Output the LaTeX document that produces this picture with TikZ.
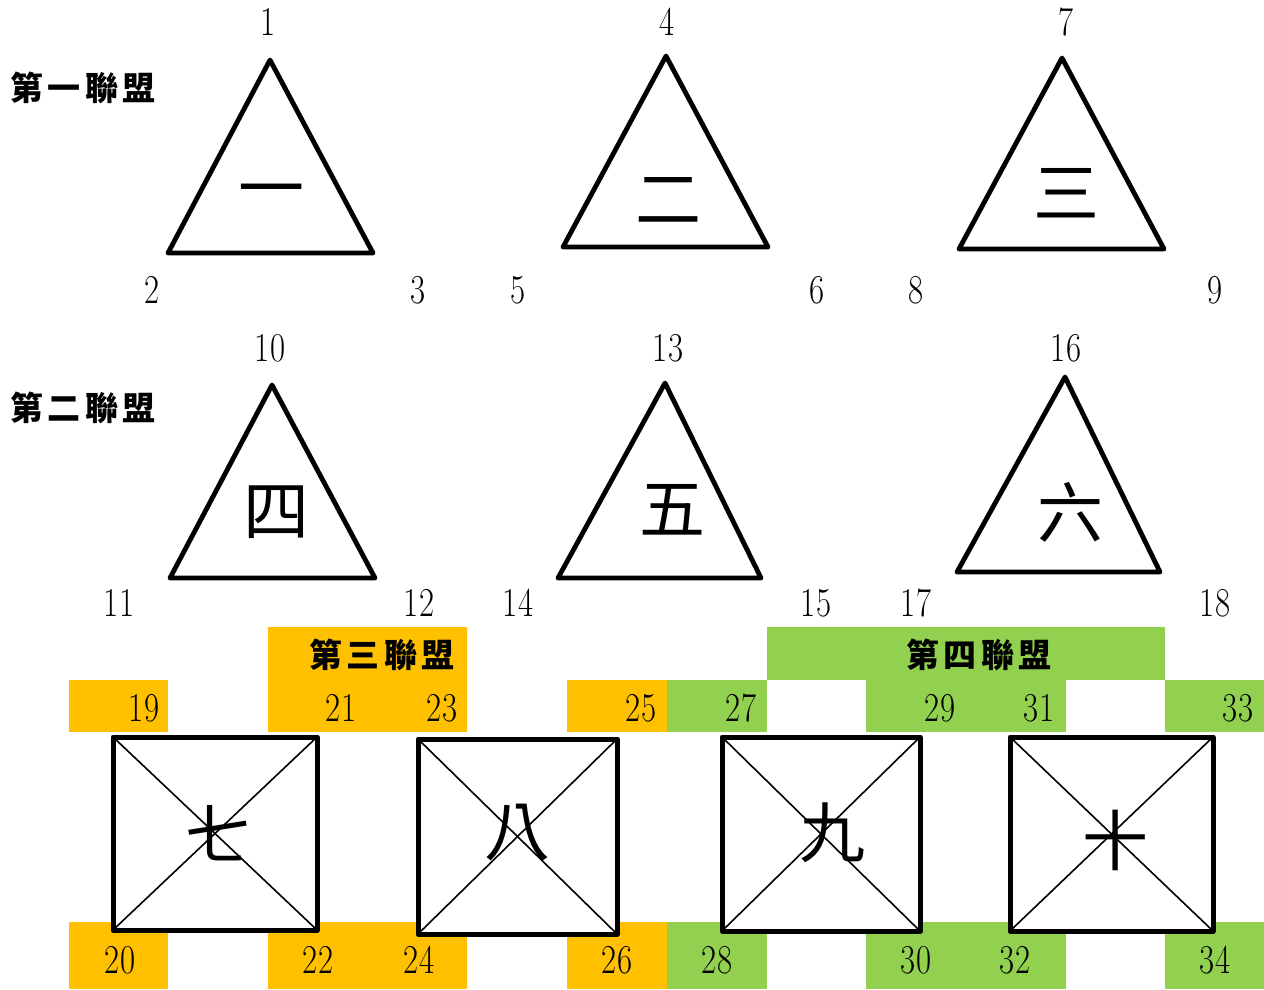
\documentclass[tikz,border=0pt]{standalone}
\usepackage{fontspec}
\usepackage{graphicx}
\newfontfamily\cjk{Noto Sans CJK TC}
\newfontfamily\cjkwide[LetterSpace=14]{Noto Sans CJK TC}
\definecolor{allyorange}{HTML}{FFC000}
\definecolor{allygreen}{HTML}{92D050}
\newcommand{\nn}[1]{\scalebox{0.8}[1]{#1}}

\tikzset{
	num/.style={font=\fontsize{41}{41}\selectfont, inner sep=0pt},
	tag/.style={font=\cjkwide\bfseries\fontsize{33}{33}\selectfont, inner sep=0pt},
	big/.style={font=\cjk\fontsize{66}{66}\selectfont, inner sep=0pt},
	tri/.style={line width=4.8pt, line join=round},
	sqbox/.style={draw, line width=5pt, fill=white, line join=round, outer sep=0pt, inner sep=0pt},
	diag/.style={line width=1.6pt}
}

\begin{document}
\begin{tikzpicture}[x=1pt, y=-1pt]
	\useasboundingbox (0,0) rectangle (1264,989);

	% alliance tags, left
	\node[tag] (tagone) at (83,88) {第一聯盟};
	\node[tag] (tagtwo) at (83,408) {第二聯盟};

	% first row of triangles
	\draw[tri] (270,60) -- (373,253) -- (168,253) -- cycle;
	\draw[tri] (666,56) -- (768,247) -- (563,247) -- cycle;
	\draw[tri] (1062,58) -- (1164,249) -- (959,249) -- cycle;
	\node[big] (tri1) at (271,198) {一};
	\node[big] (tri2) at (668,200) {二};
	\node[big] (tri3) at (1066,193) {三};

	\node[num] (n1) at (268,22) {\nn{1}};
	\node[num] (n2) at (152,290) {\nn{2}};
	\node[num] (n3) at (418,290) {\nn{3}};
	\node[num] (n4) at (667,22) {\nn{4}};
	\node[num] (n5) at (518,290) {\nn{5}};
	\node[num] (n6) at (817,290) {\nn{6}};
	\node[num] (n7) at (1066,22) {\nn{7}};
	\node[num] (n8) at (916,290) {\nn{8}};
	\node[num] (n9) at (1215,290) {\nn{9}};

	% second row of triangles
	\draw[tri] (272,385) -- (375,578) -- (170,578) -- cycle;
	\draw[tri] (665,383) -- (761,578) -- (558,578) -- cycle;
	\draw[tri] (1065,377) -- (1160,572) -- (957,572) -- cycle;
	\node[big] (tri4) at (276,512) {四};
	\node[big] (tri5) at (672,510) {五};
	\node[big] (tri6) at (1070,512) {六};

	\node[num] (n10) at (270,348) {\nn{10}};
	\node[num] (n11) at (119,603) {\nn{11}};
	\node[num] (n12) at (419,603) {\nn{12}};
	\node[num] (n13) at (668,348) {\nn{13}};
	\node[num] (n14) at (518,603) {\nn{14}};
	\node[num] (n15) at (816,603) {\nn{15}};
	\node[num] (n16) at (1066,348) {\nn{16}};
	\node[num] (n17) at (916,603) {\nn{17}};
	\node[num] (n18) at (1215,603) {\nn{18}};

	% coloured cells, third alliance
	\fill[allyorange] (69,680) rectangle (168,732);
	\fill[allyorange] (268,627) rectangle (467,732);
	\fill[allyorange] (567,680) rectangle (667,732);
	\fill[allyorange] (69,922) rectangle (168,989);
	\fill[allyorange] (268,922) rectangle (467,989);
	\fill[allyorange] (567,922) rectangle (667,989);

	% coloured cells, fourth alliance
	\fill[allygreen] (667,680) rectangle (767,732);
	\fill[allygreen] (767,627) rectangle (1165,680);
	\fill[allygreen] (866,680) rectangle (1066,732);
	\fill[allygreen] (1165,680) rectangle (1264,732);
	\fill[allygreen] (667,922) rectangle (767,989);
	\fill[allygreen] (866,922) rectangle (1066,989);
	\fill[allygreen] (1165,922) rectangle (1264,989);

	\node[tag] (tagthree) at (382,655) {第三聯盟};
	\node[tag] (tagfour) at (979,655) {第四聯盟};

	% squares with crossed diagonals
	\node[sqbox, minimum width=204, minimum height=193] (sq7) at (215,833.5) {};
	\node[sqbox, minimum width=199, minimum height=195] (sq8) at (517.5,836.5) {};
	\node[sqbox, minimum width=198, minimum height=194] (sq9) at (821,834) {};
	\node[sqbox, minimum width=203, minimum height=194] (sq10) at (1111.5,834) {};
	\foreach \s in {sq7,sq8,sq9,sq10} {
		\draw[diag] (\s.north west) -- (\s.south east);
		\draw[diag] (\s.north east) -- (\s.south west);
	}
	\node[big] (ch7) at (218,833) {七};
	\node[big] (ch8) at (517,833) {八};
	\node[big] (ch9) at (832,833) {九};
	\node[big] (ch10) at (1115,840) {十};

	% corner numbers
	\node[num] (n19) at (144,708) {\nn{19}};
	\node[num] (n21) at (341,708) {\nn{21}};
	\node[num] (n23) at (442,708) {\nn{23}};
	\node[num] (n25) at (641,708) {\nn{25}};
	\node[num] (n27) at (741,708) {\nn{27}};
	\node[num] (n29) at (940,708) {\nn{29}};
	\node[num] (n31) at (1039,708) {\nn{31}};
	\node[num] (n33) at (1238,708) {\nn{33}};

	\node[num] (n20) at (120,960) {\nn{20}};
	\node[num] (n22) at (318,960) {\nn{22}};
	\node[num] (n24) at (419,960) {\nn{24}};
	\node[num] (n26) at (617,960) {\nn{26}};
	\node[num] (n28) at (717,960) {\nn{28}};
	\node[num] (n30) at (916,960) {\nn{30}};
	\node[num] (n32) at (1015,960) {\nn{32}};
	\node[num] (n34) at (1215,960) {\nn{34}};
\end{tikzpicture}
\end{document}
